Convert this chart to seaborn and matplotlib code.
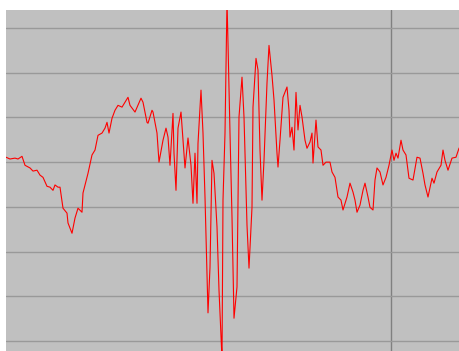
import matplotlib
matplotlib.use("Agg")
import matplotlib.pyplot as plt
import seaborn as sns
import pandas as pd

# Sample index and recorded amplitude (grid units)
t = [0, 4, 9, 12, 16, 19, 24, 27, 31, 34, 37, 41, 44, 47, 49, 52, 54, 57, 61, 62,
     66, 69, 72, 76, 77, 82, 86, 89, 92, 96, 99, 101, 103, 106, 109, 112, 116, 119, 122, 124,
     129, 135, 137, 141, 142, 146, 147, 151, 153, 157, 160, 162, 164, 167, 168, 170, 172, 175, 177, 179,
     182, 185, 187, 189, 191, 192, 195, 197, 199, 202, 204, 206, 208, 211, 213, 216, 217, 219, 221, 222,
     224, 226, 228, 231, 233, 236, 238, 241, 243, 246, 247, 250, 252, 254, 256, 258, 261, 263, 266, 268,
     271, 272, 274, 277, 281, 283, 284, 286, 288, 290, 292, 294, 296, 299, 301, 304, 306, 307, 310, 312,
     315, 317, 320, 324, 326, 329, 332, 335, 337, 341, 344, 347, 349, 351, 354, 357, 359, 362, 364, 367,
     369, 371, 374, 377, 380, 383, 386, 388, 390, 392, 395, 397, 400, 403, 407, 411, 414, 417, 419, 422,
     426, 428, 431, 435, 437, 439, 442, 446, 450, 453, 454]
amplitude = [0.11, 0.07, 0.09, 0.07, 0.13, -0.07, -0.13, -0.20, -0.18, -0.29, -0.34, -0.54, -0.56, -0.63, -0.51, -0.56, -0.56, -1.03, -1.14, -1.36,
             -1.59, -1.25, -1.03, -1.12, -0.69, -0.25, 0.16, 0.27, 0.60, 0.65, 0.76, 0.89, 0.65, 0.98, 1.16, 1.27, 1.23, 1.34, 1.45, 1.27,
             1.12, 1.43, 1.34, 0.89, 0.87, 1.16, 1.12, 0.65, 0.00, 0.49, 0.76, 0.56, -0.07, 1.09, 0.20, -0.63, 0.76, 1.12, 0.49, -0.13,
             0.54, -0.07, -0.92, 0.20, -0.92, 0.42, 1.61, 0.65, -0.78, -3.37, -2.35, 0.04, -0.25, -1.45, -2.86, -4.40, -0.85, 0.65, 3.60, 2.66,
             0.65, -1.23, -3.49, -2.79, 1.01, 1.90, 1.01, -1.41, -2.37, -1.01, 1.23, 2.32, 2.06, 0.27, -0.85, 0.04, 1.77, 2.61, 1.94, 1.39,
             0.20, -0.11, 0.49, 1.45, 1.68, 1.16, 0.56, 0.78, 0.27, 1.56, 0.72, 1.27, 1.01, 0.49, 0.31, 0.45, 0.65, -0.02, 0.94, 0.34,
             0.27, -0.07, 0.00, 0.00, -0.22, -0.34, -0.78, -0.85, -1.07, -0.78, -0.47, -0.67, -0.85, -1.12, -0.96, -0.63, -0.47, -0.78, -1.01, -1.07,
             -0.40, -0.13, -0.22, -0.51, -0.34, -0.07, 0.27, 0.04, 0.20, 0.09, 0.49, 0.27, 0.16, -0.36, -0.40, 0.11, 0.09, -0.25, -0.51, -0.78,
             -0.36, -0.47, -0.22, -0.07, 0.27, 0.04, -0.18, 0.09, 0.11, 0.31, 0.34]

grid_levels = [-4, -3, -2, -1, 0, 1, 2, 3]
marker_positions = [385]

df = pd.DataFrame({"t": t, "amplitude": amplitude})

sns.set_style("white")
fig = plt.figure(figsize=(4.60, 3.51), dpi=100)
ax = fig.add_axes([6 / 460, 0, 454 / 460, 341 / 351])
ax.set_facecolor("#c0c0c0")

sns.lineplot(data=df, x="t", y="amplitude", ax=ax, color="#ff0000",
             linewidth=0.8, sort=False, estimator=None)

ax.set_xlim(0, 454)
ax.set_ylim(-4.223, 3.402)
ax.set_yticks(grid_levels)
ax.set_xticks(marker_positions)
ax.grid(True, axis="y", color="#999999", linewidth=1.0)
ax.grid(True, axis="x", color="#808080", linewidth=1.0)
ax.set_axisbelow(True)
ax.tick_params(length=0, labelleft=False, labelbottom=False)
ax.set_xlabel("")
ax.set_ylabel("")
for s in ax.spines.values():
    s.set_visible(False)

fig.savefig("out.png", dpi=100)
